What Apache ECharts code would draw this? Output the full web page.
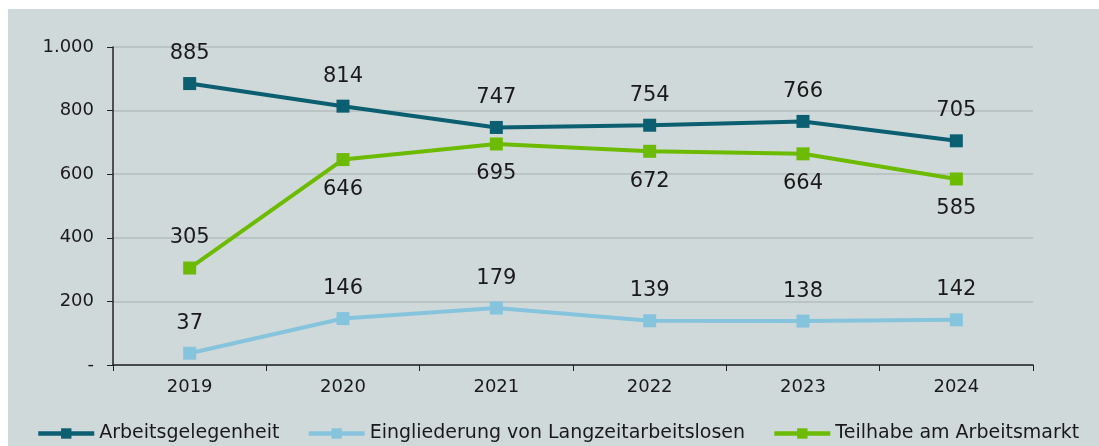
<!DOCTYPE html>
<html>
<head>
<meta charset="utf-8">
<script src="https://cdn.jsdelivr.net/npm/echarts@6/dist/echarts.min.js"></script>
<style>
  html, body { margin: 0; padding: 0; background: #ffffff; }
  #chart { position: absolute; left: 8px; top: 9px; width: 1091px; height: 437px; background: #d0d9da; }
</style>
</head>
<body>
<div id="chart"></div>
<script>
// Daten
var jahre = ['2019', '2020', '2021', '2022', '2023', '2024'];
var arbeitsgelegenheit = [885, 814, 747, 754, 766, 705];
var eingliederung = [37, 146, 179, 139, 138, 142];
var teilhabe = [305, 646, 695, 672, 664, 585];
var teilhabeLabelPos = ['top', 'bottom', 'bottom', 'bottom', 'bottom', 'bottom'];

var schrift = '"DejaVu Sans", "Noto Sans", sans-serif';

function tausender(v) {
    if (v === 0) return '-';
    return String(v).replace(/\B(?=(\d{3})+(?!\d))/g, '.');
}

var chart = echarts.init(document.getElementById('chart'));

var option = {
    textStyle: { fontFamily: schrift },
    animation: false,
    grid: { left: 105, right: 66, top: 38, bottom: 81 },
    legend: {
        left: 23,
        bottom: -2,
        itemWidth: 56,
        itemHeight: 13,
        itemGap: 27,
        lineStyle: { width: 4.5 },
        textStyle: { fontSize: 19, color: '#1a1a1a', fontFamily: schrift },
        data: ['Arbeitsgelegenheit', 'Eingliederung von Langzeitarbeitslosen', 'Teilhabe am Arbeitsmarkt']
    },
    xAxis: {
        type: 'category',
        data: jahre,
        axisLine: { lineStyle: { color: '#222', width: 1.5 } },
        axisTick: { show: true, length: 6, lineStyle: { color: '#222' } },
        axisLabel: { fontSize: 18, color: '#1a1a1a', margin: 13 }
    },
    yAxis: {
        type: 'value',
        min: 0,
        max: 1000,
        interval: 200,
        axisLine: { show: true, lineStyle: { color: '#222', width: 1.5 } },
        axisTick: { show: true, length: 6, lineStyle: { color: '#222' } },
        splitLine: { lineStyle: { color: '#b3bcbd', width: 1.5 } },
        axisLabel: { fontSize: 18, color: '#1a1a1a', margin: 19, formatter: tausender }
    },
    series: [{
        name: 'Arbeitsgelegenheit',
        type: 'line',
        data: arbeitsgelegenheit,
        symbol: 'rect',
        symbolSize: 13,
        lineStyle: { width: 4, color: '#0b5f70' },
        itemStyle: { color: '#0b5f70' },
        label: { show: true, position: 'top', distance: 13, fontSize: 21, color: '#1a1a1a' }
    }, {
        name: 'Eingliederung von Langzeitarbeitslosen',
        type: 'line',
        data: eingliederung,
        symbol: 'rect',
        symbolSize: 13,
        lineStyle: { width: 4, color: '#86c4dd' },
        itemStyle: { color: '#86c4dd' },
        label: { show: true, position: 'top', distance: 13, fontSize: 21, color: '#1a1a1a' }
    }, {
        name: 'Teilhabe am Arbeitsmarkt',
        type: 'line',
        data: teilhabe.map(function (v, i) {
            return { value: v, label: { position: teilhabeLabelPos[i] } };
        }),
        symbol: 'rect',
        symbolSize: 13,
        lineStyle: { width: 4, color: '#6dbb00' },
        itemStyle: { color: '#6dbb00' },
        label: { show: true, distance: 13, fontSize: 21, color: '#1a1a1a' }
    }]
};

chart.setOption(option);
</script>
</body>
</html>
